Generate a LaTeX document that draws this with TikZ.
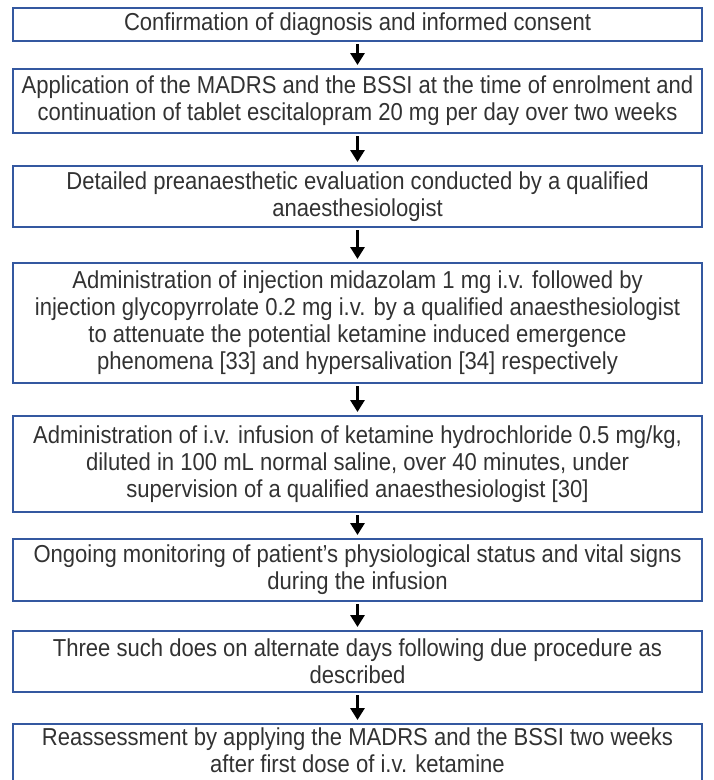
\documentclass[tikz,border=0pt]{standalone}
\usepackage{fontspec}
\setmainfont{Liberation Sans}[FakeStretch=0.9]
\usepackage{xcolor}
\usepackage{tikz}
\usetikzlibrary{arrows.meta,positioning}

\definecolor{boxblue}{RGB}{52,88,160}
\definecolor{textgray}{RGB}{50,50,50}

\begin{document}
\begin{tikzpicture}[
    node distance=30pt,
    process/.style={rectangle, minimum width=689pt, inner xsep=1pt, inner ysep=2pt, outer sep=0pt, align=center, draw=boxblue, line width=1.1pt, text=textgray, font=\fontsize{24.5}{27}\selectfont},
    arrow/.style={line width=3pt, -{Triangle[width=14pt,length=12pt]}, shorten <=3pt, shorten >=4pt}
]
\useasboundingbox (0,0) rectangle (713pt,-780pt);

\node (confirm) [process, minimum height=33pt] at (357.5pt,-24.5pt) {Confirmation of diagnosis and informed consent};
\node (enrol) [process, below=of confirm, yshift=2pt, minimum height=64pt] {Application of the MADRS and the BSSI at the time of enrolment and\\continuation of tablet escitalopram 20 mg per day over two weeks};
\node (preanaes) [process, below=of enrol, yshift=-3pt, minimum height=61pt] {Detailed preanaesthetic evaluation conducted by a qualified\\anaesthesiologist};
\node (premed) [process, below=of preanaes, yshift=-6pt, minimum height=120pt] {Administration of injection midazolam 1 mg i.v. followed by\\injection glycopyrrolate 0.2 mg i.v. by a qualified anaesthesiologist\\to attenuate the potential ketamine induced emergence\\phenomena [33] and hypersalivation [34] respectively};
\node (infusion) [process, below=of premed, yshift=-3pt, minimum height=96pt] {Administration of i.v. infusion of ketamine hydrochloride 0.5 mg/kg,\\diluted in 100 mL normal saline, over 40 minutes, under\\supervision of a qualified anaesthesiologist [30]};
\node (monitor) [process, below=of infusion, yshift=3pt, minimum height=62pt] {Ongoing monitoring of patient’s physiological status and vital signs\\during the infusion};
\node (repeat) [process, below=of monitor, minimum height=61pt] {Three such does on alternate days following due procedure as\\described};
\node (reassess) [process, draw=none, below=of repeat, yshift=-2pt, minimum height=52pt] {Reassessment by applying the MADRS and the BSSI two weeks\\after first dose of i.v. ketamine};
% last box runs off the page
\draw [boxblue, line width=1.1pt] (reassess.north west) rectangle ([yshift=-20pt]reassess.south east);

% Arrows
\draw [arrow] (confirm) -- (enrol);
\draw [arrow] (enrol) -- (preanaes);
\draw [arrow] (preanaes) -- (premed);
\draw [arrow] (premed) -- (infusion);
\draw [arrow] (infusion) -- (monitor);
\draw [arrow] (monitor) -- (repeat);
\draw [arrow] (repeat) -- (reassess);

\end{tikzpicture}
\end{document}
